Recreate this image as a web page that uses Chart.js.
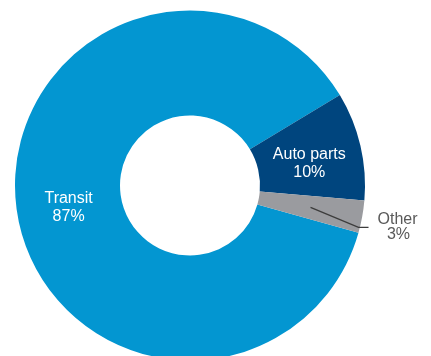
<!DOCTYPE html>
<html>
<head>
<meta charset="utf-8">
<script src="https://cdn.jsdelivr.net/npm/chart.js@4"></script>
<style>
  html, body { margin: 0; padding: 0; background: #fff; overflow: hidden; }
  canvas { display: block; }
</style>
</head>
<body>
<canvas id="myChart" width="431" height="362"></canvas>
<script>
const categories = ["Transit", "Auto parts", "Other"];
const shares = [87, 10, 3];
const colors = ["#0396d1", "#00457e", "#9a9b9f"];

// labels inside the ring, "Other" goes outside with a leader line
const labelPlugin = {
  id: "sliceLabels",
  afterDatasetsDraw(chart) {
    const c = chart.ctx;
    const arcs = chart.getDatasetMeta(0).data;
    c.save();
    c.font = "16px 'Liberation Sans', Arial, sans-serif";
    c.textAlign = "center";
    c.textBaseline = "middle";
    arcs.forEach(function(arc, i) {
      const p = arc.tooltipPosition();
      const txt = shares[i] + "%";
      if (categories[i] === "Other") {
        const ex = p.x + 48, ey = p.y + 20;
        c.strokeStyle = "#3c3c3c";
        c.lineWidth = 1.4;
        c.beginPath();
        c.moveTo(p.x, p.y);
        c.lineTo(ex, ey);
        c.lineTo(ex + 10, ey);
        c.stroke();
        c.fillStyle = "#595959";
        c.fillText(categories[i], ex + 39, ey - 8);
        c.fillText(txt, ex + 40, ey + 7);
      } else {
        c.fillStyle = "#ffffff";
        c.fillText(categories[i], p.x, p.y - 3);
        c.fillText(txt, p.x, p.y + 15);
      }
    });
    c.restore();
  }
};

new Chart(document.getElementById("myChart"), {
  type: "doughnut",
  data: {
    labels: categories,
    datasets: [{
      data: shares,
      backgroundColor: colors,
      borderWidth: 0
    }]
  },
  options: {
    responsive: false,
    animation: false,
    rotation: 105.7,
    cutout: "40%",
    layout: { padding: { left: 15, right: 66, top: 10.5, bottom: 1.5 } },
    plugins: {
      legend: { display: false },
      tooltip: { enabled: false }
    }
  },
  plugins: [labelPlugin]
});
</script>
</body>
</html>
